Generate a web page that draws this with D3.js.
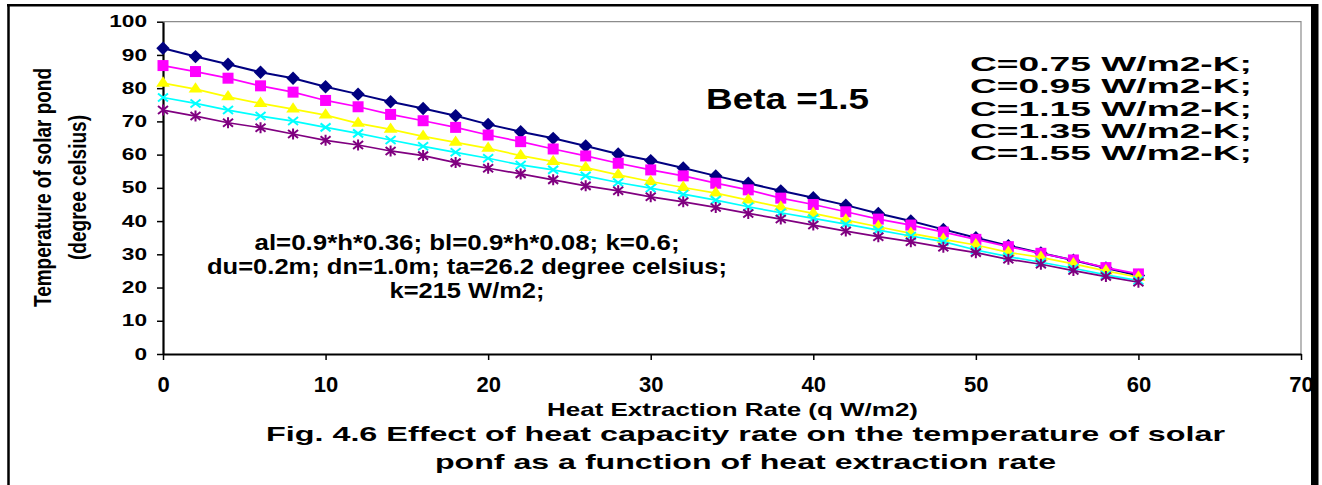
<!DOCTYPE html>
<html>
<head>
<meta charset="utf-8">
<script src="https://cdn.jsdelivr.net/npm/d3@7"></script>
<style>
  html, body { margin: 0; padding: 0; background: #fff; }
  svg { display: block; }
  text { font-family: "Liberation Sans", Arial, sans-serif; font-weight: bold; fill: #000; }
</style>
</head>
<body>
<svg id="chart" width="1322" height="485"></svg>
<script>
// ---------------- data ----------------
const heatRate = [0, 2, 4, 6, 8, 10, 12, 14, 16, 18, 20, 22, 24, 26, 28, 30,
                  32, 34, 36, 38, 40, 42, 44, 46, 48, 50, 52, 54, 56, 58, 60];

const tempC075 = [92.0, 89.5, 87.2, 84.8, 83.0, 80.4, 78.2, 75.9, 73.9, 71.7, 69.1, 66.9, 64.9, 62.6, 60.2, 58.2,
                  56.0, 53.6, 51.4, 49.1, 47.0, 44.8, 42.3, 40.0, 37.5, 35.0, 32.6, 30.4, 28.2, 25.9, 23.6];
const tempC095 = [86.8, 85.0, 83.0, 80.7, 78.8, 76.3, 74.4, 72.1, 70.2, 68.2, 65.9, 63.9, 61.7, 59.6, 57.4, 55.4,
                  53.6, 51.4, 49.4, 46.9, 45.0, 42.8, 40.6, 38.8, 36.7, 34.5, 32.3, 30.3, 28.3, 26.0, 24.1];
const tempC115 = [81.5, 79.7, 77.4, 75.4, 73.7, 71.9, 69.4, 67.6, 65.5, 63.7, 61.9, 59.7, 57.9, 56.1, 53.9, 51.9,
                  50.1, 48.4, 46.3, 44.2, 42.3, 40.3, 38.3, 36.3, 34.5, 32.8, 30.6, 29.1, 27.1, 25.0, 23.1];
const tempC135 = [77.2, 75.4, 73.4, 71.6, 70.1, 68.2, 66.4, 64.4, 62.5, 60.7, 58.9, 56.9, 55.4, 53.6, 51.6, 49.9,
                  48.1, 46.3, 44.3, 42.5, 40.8, 39.1, 37.3, 35.5, 33.8, 31.3, 29.3, 27.6, 25.8, 23.8, 22.1];
const tempC155 = [73.4, 71.6, 69.6, 68.1, 66.2, 64.3, 62.9, 61.1, 59.7, 57.6, 55.9, 54.2, 52.4, 50.6, 49.1, 47.3,
                  45.8, 44.1, 42.3, 40.6, 38.8, 37.0, 35.3, 33.8, 32.1, 30.5, 28.5, 27.0, 25.1, 23.3, 21.6];

const seriesNames = ["C=0.75 W/m2-K;", "C=0.95 W/m2-K;", "C=1.15 W/m2-K;", "C=1.35 W/m2-K;", "C=1.55 W/m2-K;"];
const seriesValues = [tempC075, tempC095, tempC115, tempC135, tempC155];
const seriesColors = ["#000080", "#FF00FF", "#FFFF00", "#00FFFF", "#800080"];
const seriesMarkers = ["diamond", "square", "triangle", "x", "asterisk"];

const xTicks = [0, 10, 20, 30, 40, 50, 60, 70];
const yTicks = [0, 10, 20, 30, 40, 50, 60, 70, 80, 90, 100];

const xTitle = "Heat Extraction Rate (q W/m2)";
const yTitle = ["Temperature of solar pond", "(degree celsius)"];
const betaText = "Beta =1.5";
const noteLines = ["al=0.9*h*0.36; bl=0.9*h*0.08; k=0.6;",
                   "du=0.2m; dn=1.0m; ta=26.2 degree celsius;",
                   "k=215 W/m2;"];
const captionLines = ["Fig. 4.6 Effect of heat capacity rate on the temperature of solar",
                      "ponf as a function of heat extraction rate"];

// ---------------- layout ----------------
const svg = d3.select("#chart");
const plot = { left: 163, right: 1301, top: 21.7, bottom: 354 };

const x = d3.scaleLinear().domain([0, 70]).range([plot.left, plot.right]);
const y = d3.scaleLinear().domain([0, 100]).range([plot.bottom, plot.top]);

// outer frame
svg.append("line").attr("x1", 8.5).attr("x2", 8.5).attr("y1", 4).attr("y2", 485)
  .attr("stroke", "#000").attr("stroke-width", 2.5);
svg.append("line").attr("x1", 7).attr("x2", 1318).attr("y1", 5.3).attr("y2", 5.3)
  .attr("stroke", "#000").attr("stroke-width", 2.5);
svg.append("rect").attr("x", 1311).attr("y", 4).attr("width", 7.5).attr("height", 481).attr("fill", "#000");

// plot area border (top/right grey)
svg.append("path")
  .attr("d", `M${plot.left},${plot.top}H${plot.right}V${plot.bottom}`)
  .attr("fill", "none").attr("stroke", "#8c8c8c").attr("stroke-width", 1.2);

// axes
const yAxis = svg.append("g").attr("transform", `translate(${plot.left},0)`)
  .call(d3.axisLeft(y).tickValues(yTicks).tickSize(6).tickSizeOuter(0).tickPadding(10));
yAxis.select(".domain").attr("stroke", "#000").attr("stroke-width", 2.2);
yAxis.selectAll(".tick line").attr("stroke", "#000").attr("stroke-width", 1.5);
yAxis.selectAll(".tick text")
  .style("font-size", "16px").style("font-family", "'Liberation Sans', Arial, sans-serif").style("font-weight", "bold")
  .attr("fill", "#000")
  .attr("textLength", d => String(d).length * 12.6)
  .attr("lengthAdjust", "spacingAndGlyphs");

const xAxis = svg.append("g").attr("transform", `translate(0,${plot.bottom})`)
  .call(d3.axisBottom(x).tickValues(xTicks).tickSize(6).tickSizeOuter(0).tickPadding(16));
xAxis.select(".domain").attr("stroke", "#000").attr("stroke-width", 2.2);
xAxis.selectAll(".tick line").attr("stroke", "#000").attr("stroke-width", 1.5);
xAxis.selectAll(".tick text")
  .style("font-size", "22px").style("font-family", "'Liberation Sans', Arial, sans-serif").style("font-weight", "bold")
  .attr("fill", "#000");

// marker shapes
const diamondPath = d3.symbol().type(d3.symbolSquare).size(90)();
const squarePath = d3.symbol().type(d3.symbolSquare).size(121)();
const trianglePath = d3.symbol().type(d3.symbolTriangle).size(62)();
const xPath = "M-5,-4L5,4M-5,4L5,-4";
const asteriskPath = "M-5,-4L5,4M-5,4L5,-4M0,-5.5L0,5.5";

const line = d3.line().x(d => x(d[0])).y(d => y(d[1]));

seriesValues.forEach((vals, i) => {
  const pts = heatRate.map((q, j) => [q, vals[j]]);
  const g = svg.append("g").attr("class", "series");
  g.append("path").attr("d", line(pts)).attr("fill", "none")
    .attr("stroke", seriesColors[i]).attr("stroke-width", i === 0 ? 2 : 1.7);
  const m = g.selectAll("path.mk").data(pts).enter().append("path").attr("class", "mk");
  const kind = seriesMarkers[i];
  if (kind === "diamond") {
    m.attr("d", diamondPath).attr("fill", seriesColors[i])
     .attr("transform", d => `translate(${x(d[0])},${y(d[1])}) rotate(45)`);
  } else if (kind === "square") {
    m.attr("d", squarePath).attr("fill", seriesColors[i])
     .attr("transform", d => `translate(${x(d[0])},${y(d[1])})`);
  } else if (kind === "triangle") {
    m.attr("d", trianglePath).attr("fill", seriesColors[i])
     .attr("transform", d => `translate(${x(d[0])},${y(d[1])}) scale(1.15,1)`);
  } else if (kind === "x") {
    m.attr("d", xPath).attr("fill", "none").attr("stroke", seriesColors[i]).attr("stroke-width", 2)
     .attr("transform", d => `translate(${x(d[0])},${y(d[1])})`);
  } else {
    m.attr("d", asteriskPath).attr("fill", "none").attr("stroke", seriesColors[i]).attr("stroke-width", 2)
     .attr("transform", d => `translate(${x(d[0])},${y(d[1])})`);
  }
});

// legend-like text block
svg.append("g").selectAll("text").data(seriesNames).enter().append("text")
  .attr("x", 970).attr("y", (d, i) => 70.7 + i * 22.4)
  .style("font-size", "20.5px")
  .attr("textLength", 282).attr("lengthAdjust", "spacingAndGlyphs")
  .text(d => d);

// Beta text
svg.append("text").attr("x", 706).attr("y", 109.3)
  .style("font-size", "29px")
  .attr("textLength", 163).attr("lengthAdjust", "spacingAndGlyphs")
  .text(betaText);

// parameter note
const noteWidths = [425, 520, 155];
svg.append("g").selectAll("text").data(noteLines).enter().append("text")
  .attr("x", 467).attr("y", (d, i) => [250, 273.5, 298][i])
  .attr("text-anchor", "middle")
  .style("font-size", "22.5px")
  .attr("textLength", (d, i) => noteWidths[i]).attr("lengthAdjust", "spacingAndGlyphs")
  .text(d => d);

// y axis title (two lines, rotated)
const yTitleWidths = [239, 145];
const yTitleBase = [50.5, 86];
yTitle.forEach((t, i) => {
  svg.append("text")
    .attr("transform", `translate(${yTitleBase[i]},187.5) rotate(-90)`)
    .attr("text-anchor", "middle")
    .style("font-size", "23px")
    .attr("textLength", yTitleWidths[i]).attr("lengthAdjust", "spacingAndGlyphs")
    .text(t);
});

// x axis title
svg.append("text").attr("x", 732.5).attr("y", 416)
  .attr("text-anchor", "middle")
  .style("font-size", "19px")
  .attr("textLength", 371).attr("lengthAdjust", "spacingAndGlyphs")
  .text(xTitle);

// caption
const capWidths = [959, 621];
svg.append("g").selectAll("text").data(captionLines).enter().append("text")
  .attr("x", 745.5).attr("y", (d, i) => [441, 469][i])
  .attr("text-anchor", "middle")
  .style("font-size", "21px")
  .attr("textLength", (d, i) => capWidths[i]).attr("lengthAdjust", "spacingAndGlyphs")
  .text(d => d);
</script>
</body>
</html>
